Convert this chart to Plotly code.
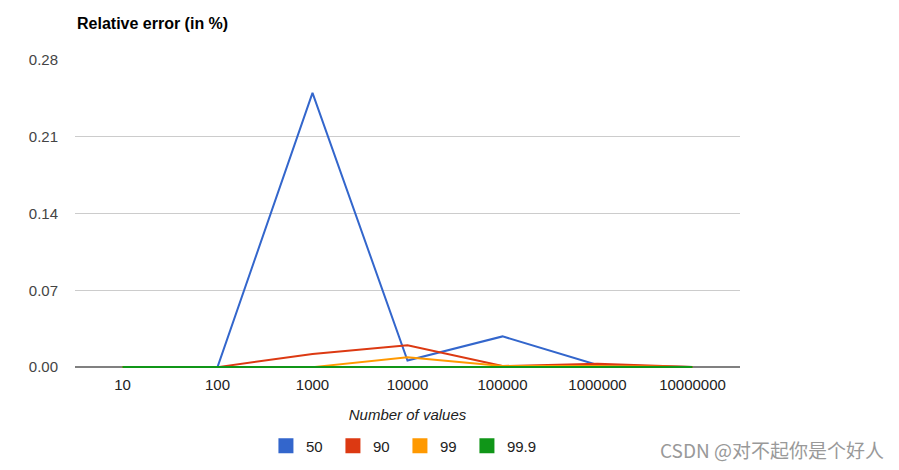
import plotly.graph_objects as go

categories = ["10", "100", "1000", "10000", "100000", "1000000", "10000000"]
series_names = ["50", "90", "99", "99.9"]
s50 = [0, 0, 0.25, 0.006, 0.028, 0.002, 0]
s90 = [0, 0, 0.012, 0.020, 0.001, 0.003, 0]
s99 = [0, 0, 0.0, 0.009, 0.001, 0.001, 0]
s999 = [0, 0, 0, 0.0003, 0.0002, 0.0001, 0]
colors = ["#3366cc", "#dc3912", "#ff9900", "#109618"]
yticks = [0, 0.07, 0.14, 0.21, 0.28]

fig = go.Figure()
for name, vals, c in zip(series_names, [s50, s90, s99, s999], colors):
    fig.add_trace(go.Scatter(x=categories, y=vals, mode="lines", name=name,
                             line=dict(color=c, width=2), showlegend=False))
for name, c in zip(series_names, colors):
    fig.add_trace(go.Scatter(x=[None], y=[None], mode="markers", name=name,
                             marker=dict(symbol="square", size=15, color=c)))
# invisible spacer entry so the last legend label is not clipped
fig.add_trace(go.Scatter(x=[None], y=[None], mode="markers", name=" ",
                         marker=dict(symbol="square", size=15, color="rgba(0,0,0,0)")))

font = "Liberation Sans, Arial, sans-serif"
fig.update_layout(
    width=899, height=470,
    margin=dict(l=75, r=159, t=60, b=102, autoexpand=False),
    paper_bgcolor="white", plot_bgcolor="white",
    font=dict(family=font, size=15, color="#444444"),
    xaxis=dict(type="category", range=[-0.5, 6.5], showgrid=False,
               showline=False, zeroline=False, ticks="", ticklabelstandoff=6,
               tickfont=dict(size=15, color="#222222"),
               title=dict(text="<i>Number of values</i>", font=dict(size=15, color="#222222"), standoff=17)),
    yaxis=dict(range=[-0.0008, 0.28], tickvals=yticks, tickformat=".2f",
               gridcolor="#cccccc", gridwidth=1, zeroline=True, zerolinecolor="#808080",
               zerolinewidth=2, showline=False, ticks="", ticklabelstandoff=16,
               tickfont=dict(size=15, color="#444444")),
    legend=dict(orientation="h", x=0.539, xanchor="center", y=-0.2, yanchor="top",
                font=dict(size=15, color="#222222"), entrywidth=22, entrywidthmode="pixels",
                itemwidth=30),
    annotations=[
        dict(text="<b>Relative error (in %)</b>", xref="paper", yref="paper", x=0, y=1.084,
             xanchor="left", yanchor="bottom", showarrow=False,
             font=dict(size=16, color="#000000", family=font)),
        dict(text="CSDN @对不起你是个好人", xref="paper", yref="paper", x=1.22, y=-0.266,
             xanchor="right", yanchor="middle", showarrow=False,
             font=dict(size=19, color="#999999", family="Noto Sans CJK SC, sans-serif")),
    ],
)
fig.write_html("out.html")
